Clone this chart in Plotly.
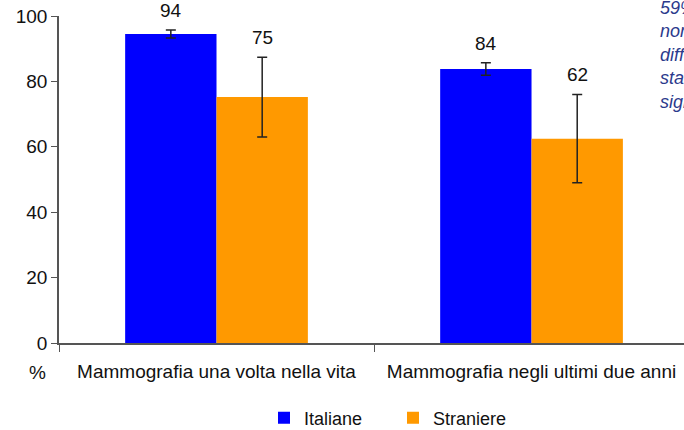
import plotly.graph_objects as go

categorie = ["Mammografia una volta nella vita", "Mammografia negli ultimi due anni"]
italiane = [94.5, 83.8]
italiane_err = [1.2, 1.9]
straniere = [75.2, 62.5]
straniere_err = [12.2, 13.5]
etichette_ita = ["94", "84"]
etichette_str = ["75", "62"]

BLU = "#0000FF"
ARANCIO = "#FF9900"
FONT = "Liberation Sans, Arial, sans-serif"

fig = go.Figure()
fig.add_trace(go.Bar(
    x=categorie, y=italiane, name="Italiane", marker_color=BLU, marker_line_width=0,
    error_y=dict(type="data", array=italiane_err, color="#222", thickness=1.5, width=5),
))
fig.add_trace(go.Bar(
    x=categorie, y=straniere, name="Straniere", marker_color=ARANCIO, marker_line_width=0,
    error_y=dict(type="data", array=straniere_err, color="#222", thickness=1.5, width=5),
))

# etichette sopra le barre di errore
for cat, v, e, t in zip(categorie, italiane, italiane_err, etichette_ita):
    fig.add_annotation(x=cat, y=v + e, text=t, showarrow=False, xshift=-46,
                       yanchor="bottom", yshift=7, font=dict(size=19, color="#111"))
for cat, v, e, t in zip(categorie, straniere, straniere_err, etichette_str):
    fig.add_annotation(x=cat, y=v + e, text=t, showarrow=False, xshift=46,
                       yanchor="bottom", yshift=7, font=dict(size=19, color="#111"))

fig.add_annotation(xref="paper", yref="paper", x=-0.018, y=-0.089, text="%",
                   showarrow=False, xanchor="right", yanchor="middle",
                   font=dict(size=19, color="#111"))

# nota a destra, tagliata dal bordo come nell'originale
fig.add_annotation(xref="paper", yref="paper", x=0.958, y=1.062, xanchor="left", yanchor="top",
                   align="left", showarrow=False,
                   text="<i>59% delle donne<br>non<br>differenze<br>statisticamente<br>significative</i>",
                   font=dict(size=18, color="#2B3A8C"))

fig.update_layout(
    width=684, height=430,
    margin=dict(l=59, r=0, t=16, b=87, autoexpand=False),
    plot_bgcolor="white", paper_bgcolor="white",
    font=dict(family=FONT, size=19, color="#111"),
    barmode="group", bargap=0.42, bargroupgap=0,
    showlegend=True,
    legend=dict(orientation="h", x=0.328, xanchor="left",
                yref="container", y=0.028, yanchor="middle",
                font=dict(size=18), itemwidth=30, entrywidth=84),
)
fig.update_yaxes(range=[0, 100], dtick=20, showgrid=False, zeroline=False,
                 showline=True, linecolor="#555", linewidth=1.5,
                 ticks="outside", ticklen=6, tickcolor="#555")
# l'asse continua oltre il bordo destro, come nell'originale
fig.update_xaxes(range=[-0.5, 1.484], showgrid=False, showline=True, linecolor="#555",
                 linewidth=1.5, ticks="outside", ticklen=7, tickcolor="#555",
                 tickson="boundaries", ticklabelstandoff=10)

# niente margine della pagina: la figura parte dall'angolo in alto a sinistra
fig.write_html("out.html", config={"displayModeBar": False},
               post_script="document.body.style.margin='0';")
